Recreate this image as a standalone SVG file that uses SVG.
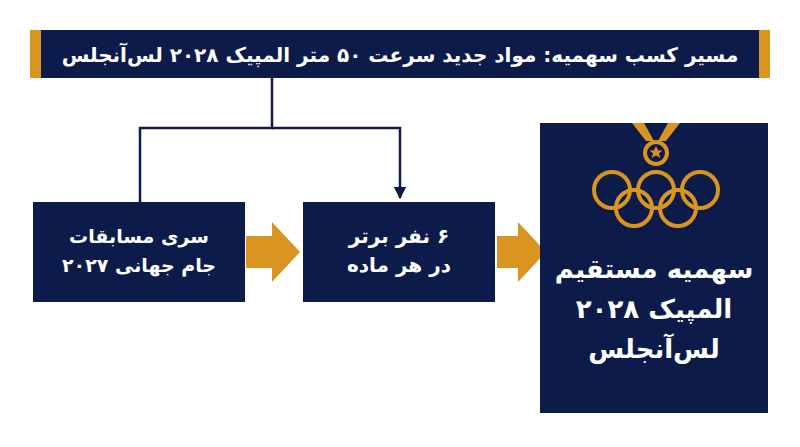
<svg xmlns="http://www.w3.org/2000/svg" width="800" height="447" viewBox="0 0 800 447">
<defs>
<style>
.box{fill:#0c1b4a}
.gold{fill:#d9951f}
.t{font-family:"DejaVu Sans","Noto Sans",sans-serif;font-weight:bold;fill:#fff;text-anchor:middle;direction:rtl}
.ln{stroke:#0c1b4a;stroke-width:2.5;fill:none}
.ring{fill:none;stroke:#d9951f;stroke-width:4}
</style>
<marker id="ah" viewBox="0 0 10 10" refX="9" refY="5" markerWidth="5" markerHeight="5" orient="auto"><path d="M0,0L10,5L0,10z" fill="#0c1b4a"/></marker>
</defs>
<rect width="800" height="447" fill="#fff"/>
<g id="title">
<rect class="box" x="30" y="30" width="740" height="48"/>
<rect class="gold" x="30" y="30" width="11" height="48"/>
<rect class="gold" x="759" y="30" width="11" height="48"/>
<text class="t" x="400" y="62" font-size="20">مسیر کسب سهمیه: مواد جدید سرعت ۵۰ متر المپیک ۲۰۲۸ لس‌آنجلس</text>
</g>
<g id="connectors">
<path class="ln" d="M272,78V128H140V202"/>
<path class="ln" d="M272,128H400V198" marker-end="url(#ah)"/>
<path class="gold" d="M246,236H272V222L300,252L272,282V268H246z"/>
<path class="gold" d="M497,236H518V222L546,252L518,282V268H497z"/>
</g>
<g id="n1">
<rect class="box" x="33" y="202" width="212" height="100"/>
<text class="t" x="139" y="243" font-size="19">سری مسابقات</text>
<text class="t" x="139" y="272" font-size="19">جام جهانی ۲۰۲۷</text>
</g>
<g id="n2">
<rect class="box" x="303" y="202" width="192" height="100"/>
<text class="t" x="399" y="243" font-size="20">۶ نفر برتر</text>
<text class="t" x="399" y="272" font-size="20">در هر ماده</text>
</g>
<g id="n3">
<rect class="box" x="540" y="123" width="228" height="290"/>
<path class="gold" d="M632,123h12l10,18h-8zM680,123h-12l-10,18h8z"/>
<circle cx="656" cy="153" r="11" class="ring" stroke-width="3.5"/>
<path class="gold" d="M656,146l2,4.5h4.5l-3.6,3 1.4,4.6-4.3-2.8-4.3,2.8 1.4-4.6-3.6-3h4.5z"/>
<circle class="ring" cx="612" cy="190" r="18"/>
<circle class="ring" cx="656" cy="190" r="18"/>
<circle class="ring" cx="700" cy="190" r="18"/>
<circle class="ring" cx="634" cy="208" r="18"/>
<circle class="ring" cx="678" cy="208" r="18"/>
<text class="t" x="654" y="278" font-size="26">سهمیه مستقیم</text>
<text class="t" x="654" y="318" font-size="26">المپیک ۲۰۲۸</text>
<text class="t" x="654" y="358" font-size="26">لس‌آنجلس</text>
</g>
</svg>
